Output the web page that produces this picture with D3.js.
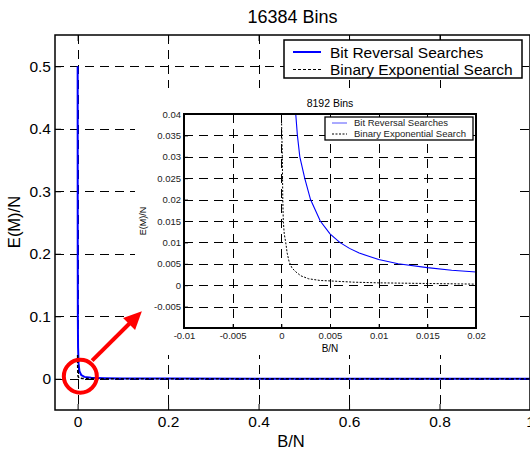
<!DOCTYPE html>
<html>
<head>
<meta charset="utf-8">
<script src="https://cdn.jsdelivr.net/npm/d3@7"></script>
<style>
  body { margin: 0; background: #fff; }
  svg { display: block; font-family: "Liberation Sans", Arial, Helvetica, sans-serif; }
</style>
</head>
<body>
<svg id="chart" width="530" height="451"></svg>
<script>
// main plot: 16384 bins
const mainTitle = "16384 Bins";
const mainXTicks = [0, 0.2, 0.4, 0.6, 0.8, 1];
const mainYTicks = [0, 0.1, 0.2, 0.3, 0.4, 0.5];
const mainBitReversal = [
  [0.0001, 0.5], [0.00012, 0.4], [0.00016, 0.3], [0.00025, 0.2], [0.0005, 0.1],
  [0.001, 0.05], [0.002, 0.025], [0.004, 0.012], [0.008, 0.006], [0.015, 0.003],
  [0.03, 0.0015], [0.06, 0.0008], [0.1, 0.0005], [0.2, 0.00025], [0.4, 0.00012],
  [0.6, 0.00008], [0.8, 0.00006], [1, 0.00005]
];
const mainBinaryExp = [
  [0.00001, 0.038], [0.0002, 0.015], [0.0005, 0.008], [0.001, 0.004], [0.003, 0.0014],
  [0.01, 0.0005], [0.05, 0.0001], [0.2, 0.00003], [1, 0.00001]
];

// inset: 8192 bins
const insetTitle = "8192 Bins";
const insetXTicks = [-0.01, -0.005, 0, 0.005, 0.01, 0.015, 0.02];
const insetYTicks = [-0.005, 0, 0.005, 0.01, 0.015, 0.02, 0.025, 0.03, 0.035, 0.04];
const insetBitReversal = [
  [0.00148, 0.04], [0.00165, 0.035], [0.0019, 0.03], [0.0024, 0.025], [0.003, 0.02],
  [0.004, 0.015], [0.005, 0.012], [0.006, 0.01], [0.007, 0.0086], [0.008, 0.0075],
  [0.01, 0.006], [0.012, 0.005], [0.015, 0.0041], [0.0175, 0.0035], [0.02, 0.0031]
];
const insetBinaryExp = [
  [0.00002, 0.0386], [0.0001, 0.03], [0.00015, 0.02], [0.0002, 0.015], [0.0003, 0.012],
  [0.00045, 0.01], [0.0006, 0.0075], [0.0008, 0.0055], [0.0011, 0.004], [0.0015, 0.0031],
  [0.002, 0.0022], [0.0028, 0.0015], [0.004, 0.0011], [0.005, 0.001], [0.0075, 0.0007],
  [0.01, 0.00055], [0.015, 0.0004], [0.02, 0.00025]
];

const seriesNames = ["Bit Reversal Searches", "Binary Exponential Search"];

const svg = d3.select('#chart');
const black = "#000";
const blue = "#0000ff";
const gridDash = "9,6";

// ---------- main axes ----------
const x = d3.scaleLinear().domain([-0.05, 1]).range([55, 530]);
const y = d3.scaleLinear().domain([-0.05, 0.55]).range([410, 35]);

const main = svg.append('g');

// grid
main.selectAll('.vgrid').data(mainXTicks.filter(d => d < 1)).enter().append('line')
  .attr('x1', d => Math.round(x(d)) + 0.5).attr('x2', d => Math.round(x(d)) + 0.5)
  .attr('y1', y.range()[1]).attr('y2', y.range()[0])
  .attr('stroke', black).attr('stroke-width', 1).attr('stroke-dasharray', gridDash);
main.selectAll('.hgrid').data(mainYTicks).enter().append('line')
  .attr('x1', x.range()[0]).attr('x2', x.range()[1])
  .attr('y1', d => Math.round(y(d)) + 0.5).attr('y2', d => Math.round(y(d)) + 0.5)
  .attr('stroke', black).attr('stroke-width', 1).attr('stroke-dasharray', gridDash);

// lines
const line = d3.line().x(d => x(d[0])).y(d => y(d[1]));
main.append('path').datum(mainBitReversal).attr('d', line)
  .attr('fill', 'none').attr('stroke', blue).attr('stroke-width', 2);
main.append('path').datum(mainBinaryExp).attr('d', line)
  .attr('fill', 'none').attr('stroke', black).attr('stroke-width', 1.5)
  .attr('stroke-dasharray', '3,2');

// frame + inner ticks
main.append('rect')
  .attr('x', x.range()[0]).attr('y', y.range()[1])
  .attr('width', x.range()[1] - x.range()[0]).attr('height', y.range()[0] - y.range()[1])
  .attr('fill', 'none').attr('stroke', black).attr('stroke-width', 1.5);

const xAxis = d3.axisBottom(x).tickValues(mainXTicks).tickSizeInner(-6).tickSizeOuter(0)
  .tickPadding(6).tickFormat(d => String(d));
const yAxis = d3.axisLeft(y).tickValues(mainYTicks).tickSizeInner(-6).tickSizeOuter(0)
  .tickPadding(4).tickFormat(d => String(d));

const gx = main.append('g').attr('transform', 'translate(0,' + y.range()[0] + ')').call(xAxis);
const gy = main.append('g').attr('transform', 'translate(' + x.range()[0] + ',0)').call(yAxis);
[gx, gy].forEach(g => {
  g.select('.domain').remove();
  g.selectAll('line').attr('stroke', black).attr('stroke-width', 1);
  g.selectAll('text').attr('fill', black).style('font-size', '15.5px');
});
// ticks on top and right
main.append('g').attr('transform', 'translate(0,' + y.range()[1] + ')')
  .call(d3.axisTop(x).tickValues(mainXTicks).tickSizeInner(-6).tickSizeOuter(0).tickFormat(''))
  .call(g => g.select('.domain').remove());

main.append('text').attr('x', (x.range()[0] + x.range()[1]) / 2).attr('y', 23)
  .attr('text-anchor', 'middle').style('font-size', '18px').text(mainTitle);
main.append('text').attr('x', 291).attr('y', 447)
  .attr('text-anchor', 'middle').style('font-size', '16.5px').text('B/N');
main.append('text').attr('transform', 'translate(20,222) rotate(-90)')
  .attr('text-anchor', 'middle').style('font-size', '16.5px').text('E(M)/N');

// main legend
const leg = main.append('g');
leg.append('rect').attr('x', 284).attr('y', 40).attr('width', 238).attr('height', 38)
  .attr('fill', '#fff').attr('stroke', black).attr('stroke-width', 1.5);
seriesNames.forEach((name, i) => {
  const ly = 52 + i * 17.5;
  leg.append('line').attr('x1', 293).attr('x2', 321).attr('y1', ly).attr('y2', ly)
    .attr('stroke', i === 0 ? blue : black).attr('stroke-width', i === 0 ? 2 : 1.2)
    .attr('stroke-dasharray', i === 0 ? null : '3,2');
  leg.append('text').attr('x', 330).attr('y', ly + 5.5).style('font-size', '15.5px').text(name);
});

// ---------- inset ----------
const ix = d3.scaleLinear().domain([-0.01, 0.02]).range([184, 476]);
const iy = d3.scaleLinear().domain([-0.01, 0.04]).range([328, 114]);

const inset = svg.append('g');
// white backing of the inset figure area
inset.append('rect').attr('x', 135).attr('y', 88).attr('width', 381).attr('height', 267)
  .attr('fill', '#fff');

inset.selectAll('.ivgrid').data(insetXTicks.slice(1, -1)).enter().append('line')
  .attr('x1', d => Math.round(ix(d)) + 0.5).attr('x2', d => Math.round(ix(d)) + 0.5)
  .attr('y1', iy.range()[1]).attr('y2', iy.range()[0])
  .attr('stroke', black).attr('stroke-width', 1).attr('stroke-dasharray', gridDash);
inset.selectAll('.ihgrid').data(insetYTicks.filter(d => d < 0.04)).enter().append('line')
  .attr('x1', ix.range()[0]).attr('x2', ix.range()[1])
  .attr('y1', d => Math.round(iy(d)) + 0.5).attr('y2', d => Math.round(iy(d)) + 0.5)
  .attr('stroke', black).attr('stroke-width', 1).attr('stroke-dasharray', gridDash);

const iline = d3.line().x(d => ix(d[0])).y(d => iy(d[1]));
inset.append('path').datum(insetBitReversal).attr('d', iline)
  .attr('fill', 'none').attr('stroke', blue).attr('stroke-width', 1.1);
inset.append('path').datum(insetBinaryExp).attr('d', iline)
  .attr('fill', 'none').attr('stroke', black).attr('stroke-width', 1)
  .attr('stroke-dasharray', '2,1.5');

inset.append('rect')
  .attr('x', ix.range()[0]).attr('y', iy.range()[1])
  .attr('width', ix.range()[1] - ix.range()[0]).attr('height', iy.range()[0] - iy.range()[1])
  .attr('fill', 'none').attr('stroke', black).attr('stroke-width', 2);

const igx = inset.append('g').attr('transform', 'translate(0,' + iy.range()[0] + ')')
  .call(d3.axisBottom(ix).tickValues(insetXTicks).tickSizeInner(-4).tickSizeOuter(0)
    .tickPadding(4).tickFormat(d => String(d)));
const igy = inset.append('g').attr('transform', 'translate(' + ix.range()[0] + ',0)')
  .call(d3.axisLeft(iy).tickValues(insetYTicks).tickSizeInner(-4).tickSizeOuter(0)
    .tickPadding(3).tickFormat(d => String(d)));
[igx, igy].forEach(g => {
  g.select('.domain').remove();
  g.selectAll('line').attr('stroke', black);
  g.selectAll('text').attr('fill', '#222').style('font-size', '9.5px');
});

inset.append('text').attr('x', (ix.range()[0] + ix.range()[1]) / 2).attr('y', 107)
  .attr('text-anchor', 'middle').style('font-size', '10.5px').text(insetTitle);
inset.append('text').attr('x', 330).attr('y', 352)
  .attr('text-anchor', 'middle').style('font-size', '10px').text('B/N');
inset.append('text').attr('transform', 'translate(146,221) rotate(-90)')
  .attr('text-anchor', 'middle').style('font-size', '9px').text('E(M)/N');

// inset legend
const ileg = inset.append('g');
ileg.append('rect').attr('x', 325).attr('y', 117).attr('width', 148).attr('height', 23)
  .attr('fill', '#fff').attr('stroke', black).attr('stroke-width', 1.3);
seriesNames.forEach((name, i) => {
  const ly = 123 + i * 11;
  ileg.append('line').attr('x1', 332).attr('x2', 347).attr('y1', ly).attr('y2', ly)
    .attr('stroke', i === 0 ? '#5555ff' : black).attr('stroke-width', 1)
    .attr('stroke-dasharray', i === 0 ? null : '2,1.5');
  ileg.append('text').attr('x', 354).attr('y', ly + 3.3).style('font-size', '9.5px')
    .attr('fill', '#222').text(name);
});

// ---------- red annotation ----------
const red = "#ff0000";
svg.append('circle').attr('cx', x(0.006)).attr('cy', y(0.004)).attr('r', 16.5)
  .attr('fill', 'none').attr('stroke', red).attr('stroke-width', 4);

const a0 = [x(0.032), y(0.029)], a1 = [x(0.142), y(0.108)];
const dx = a1[0] - a0[0], dy = a1[1] - a0[1], len = Math.hypot(dx, dy);
const ux = dx / len, uy = dy / len, head = 18, hw = 8.5;
const base = [a1[0] - ux * head, a1[1] - uy * head];
svg.append('line').attr('x1', a0[0]).attr('y1', a0[1]).attr('x2', base[0] + ux * 2).attr('y2', base[1] + uy * 2)
  .attr('stroke', red).attr('stroke-width', 4);
svg.append('polygon')
  .attr('points', [a1, [base[0] - uy * hw, base[1] + ux * hw], [base[0] + uy * hw, base[1] - ux * hw]]
    .map(p => p.join(',')).join(' '))
  .attr('fill', red);
</script>
</body>
</html>
